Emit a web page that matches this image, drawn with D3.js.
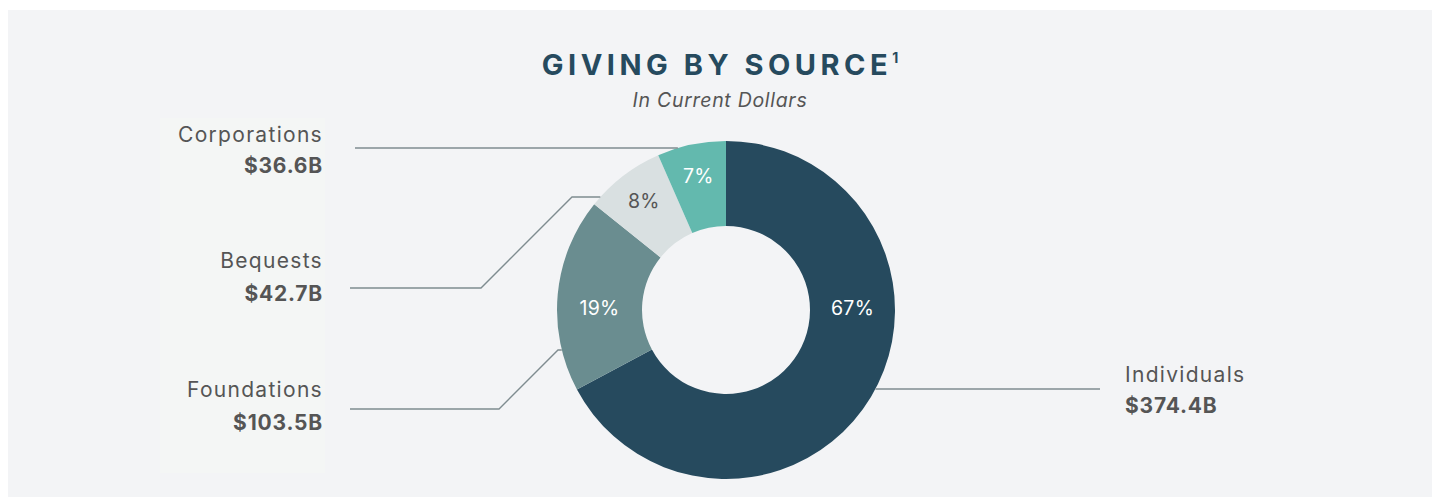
<!DOCTYPE html>
<html>
<head>
<meta charset="utf-8">
<script src="https://cdn.jsdelivr.net/npm/d3@7"></script>
<style>
  body { margin: 0; background: #fff; }
  svg { display: block; font-family: "Inter", "Noto Sans", sans-serif; }
</style>
</head>
<body>
<script>
// data
var categories = ["Individuals", "Foundations", "Bequests", "Corporations"];
var amounts = [374.4, 103.5, 42.7, 36.6];
var valueLabels = ["$374.4B", "$103.5B", "$42.7B", "$36.6B"];
var sliceColors = ["#264a5e", "#6a8d90", "#d9e0e1", "#63b9ae"];
var pctColors = ["#ffffff", "#ffffff", "#555555", "#ffffff"];

var width = 1433, height = 498;
var cx = 726, cy = 310, outerR = 169, innerR = 84;

// where each label + leader line sits
var layout = {
  "Individuals":  {side: "right", textX: 1125, nameY: 382, valueY: 413, lineY: 389, lineEnd: 1100},
  "Foundations":  {side: "left", textX: 323, nameY: 397, valueY: 430, lineY: 409, lineStart: 350, elbowX: 499, endY: 350},
  "Bequests":     {side: "left", textX: 323, nameY: 268, valueY: 301, lineY: 288, lineStart: 350, elbowX: 481, endY: 197},
  "Corporations": {side: "left", textX: 323, nameY: 142, valueY: 173, lineY: 148, lineStart: 355}
};

var svg = d3.select("body").append("svg")
    .attr("width", width)
    .attr("height", height);

svg.append("rect")
    .attr("x", 8).attr("y", 10)
    .attr("width", 1424).attr("height", 487)
    .attr("fill", "#f3f4f6");

// faint lighter block behind the left labels
svg.append("rect")
    .attr("x", 160).attr("y", 118)
    .attr("width", 165).attr("height", 355)
    .attr("fill", "#f4f6f5");

// title
var title = svg.append("text")
    .attr("x", 720).attr("y", 75)
    .attr("text-anchor", "middle")
    .attr("fill", "#264a5e")
    .style("font-size", "29px")
    .style("font-weight", 700)
    .style("letter-spacing", "4.5px")
    .text("GIVING BY SOURCE");
title.append("tspan")
    .attr("dy", -12)
    .style("font-size", "14px")
    .style("letter-spacing", "0px")
    .text("1");

svg.append("text")
    .attr("x", 720).attr("y", 107)
    .attr("text-anchor", "middle")
    .attr("fill", "#555")
    .style("font-size", "19.5px")
    .style("font-style", "italic")
    .style("letter-spacing", "0.7px")
    .text("In Current Dollars");

var total = d3.sum(amounts);
var rows = categories.map(function(c, i) {
  return {name: c, value: amounts[i], label: valueLabels[i], color: sliceColors[i], pctColor: pctColors[i]};
});

var pie = d3.pie().sort(null).value(function(d) { return d.value; });
var arc = d3.arc().innerRadius(innerR).outerRadius(outerR);
var arcs = pie(rows);

var g = svg.append("g").attr("transform", "translate(" + cx + "," + cy + ")");

g.selectAll("path.slice")
  .data(arcs)
  .enter().append("path")
    .attr("class", "slice")
    .attr("d", arc)
    .attr("fill", function(d) { return d.data.color; });

// percent labels: horizontal if the slice covers 3 or 9 o'clock, else at the centroid
function labelPos(d) {
  var a0 = d.startAngle, a1 = d.endAngle, a, r;
  if (a0 <= Math.PI / 2 && a1 >= Math.PI / 2) { a = Math.PI / 2; r = (innerR + outerR) / 2; }
  else if (a0 <= Math.PI * 1.5 && a1 >= Math.PI * 1.5) { a = Math.PI * 1.5; r = (innerR + outerR) / 2; }
  else { a = (a0 + a1) / 2; r = outerR * 0.8; }
  return [r * Math.sin(a), -r * Math.cos(a) - 2];
}

g.selectAll("text.pct")
  .data(arcs)
  .enter().append("text")
    .attr("class", "pct")
    .attr("x", function(d) { return labelPos(d)[0]; })
    .attr("y", function(d) { return labelPos(d)[1]; })
    .attr("text-anchor", "middle")
    .attr("dominant-baseline", "central")
    .attr("fill", function(d) { return d.data.pctColor; })
    .style("font-size", "19.5px")
    .style("letter-spacing", "0.3px")
    .text(function(d) { return Math.round(d.data.value / total * 100) + "%"; });

// leader lines
function circleX(y, side) {
  var dy = y - cy;
  var dx = Math.sqrt(outerR * outerR - dy * dy);
  return side === "left" ? cx - dx : cx + dx;
}

var line = d3.line();
rows.forEach(function(d) {
  var L = layout[d.name];
  var pts;
  if (L.side === "right") {
    pts = [[circleX(L.lineY, "right"), L.lineY], [L.lineEnd, L.lineY]];
  } else if (L.elbowX == null) {
    pts = [[L.lineStart, L.lineY], [circleX(L.lineY, "left"), L.lineY]];
  } else {
    var diagX = L.elbowX + (L.lineY - L.endY);
    pts = [[L.lineStart, L.lineY], [L.elbowX, L.lineY], [diagX, L.endY], [Math.max(diagX, circleX(L.endY, "left")), L.endY]];
  }
  svg.append("path")
    .attr("d", line(pts))
    .attr("fill", "none")
    .attr("stroke", "#7f8c90")
    .attr("stroke-width", 1.4);

  var anchor = L.side === "left" ? "end" : "start";
  svg.append("text")
    .attr("x", L.textX).attr("y", L.nameY)
    .attr("text-anchor", anchor)
    .attr("fill", "#555")
    .style("font-size", "21px")
    .style("letter-spacing", "1.3px")
    .text(d.name);
  svg.append("text")
    .attr("x", L.textX).attr("y", L.valueY)
    .attr("text-anchor", anchor)
    .attr("fill", "#555")
    .style("font-size", "21px")
    .style("font-weight", 700)
    .style("letter-spacing", "0.8px")
    .text(d.label);
});
</script>
</body>
</html>
